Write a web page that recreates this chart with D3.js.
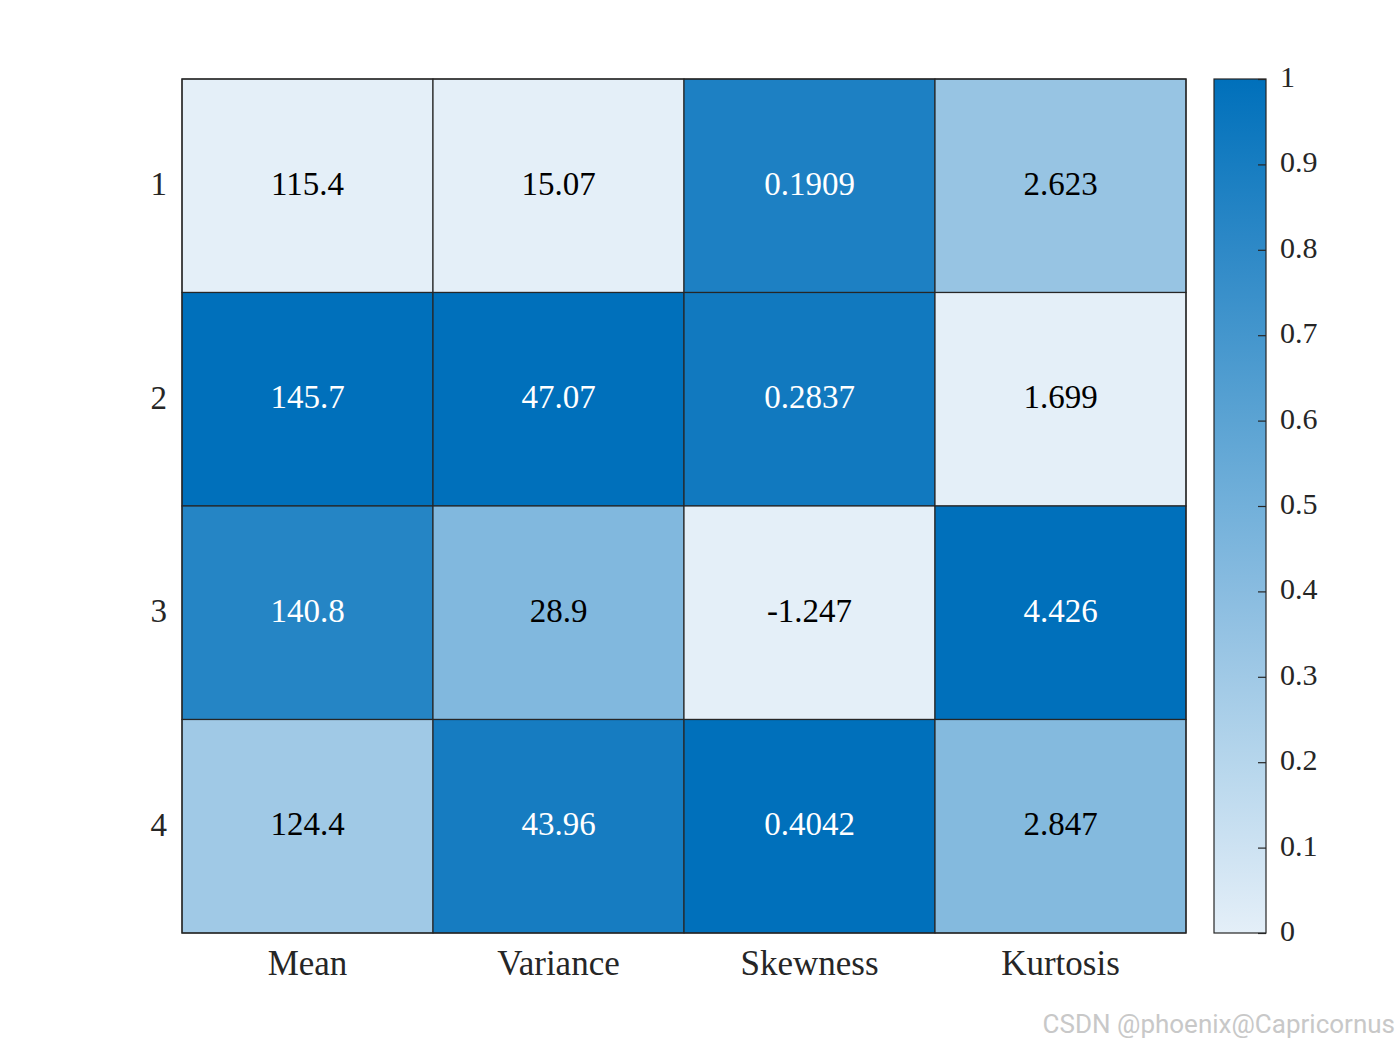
<!DOCTYPE html>
<html>
<head>
<meta charset="utf-8">
<script src="https://cdn.jsdelivr.net/npm/d3@7"></script>
<style>
  body { margin: 0; background: #fff; }
  svg { display: block; }
</style>
</head>
<body>
<svg id="chart" width="1400" height="1050"></svg>
<script>
// ---- data ----
const columns = ["Mean", "Variance", "Skewness", "Kurtosis"];
const rows = ["1", "2", "3", "4"];
const meanVals = [115.4, 145.7, 140.8, 124.4];
const varianceVals = [15.07, 47.07, 28.9, 43.96];
const skewnessVals = [0.1909, 0.2837, -1.247, 0.4042];
const kurtosisVals = [2.623, 1.699, 4.426, 2.847];
const colorbarTicks = [0, 0.1, 0.2, 0.3, 0.4, 0.5, 0.6, 0.7, 0.8, 0.9, 1];

const seriesByColumn = [meanVals, varianceVals, skewnessVals, kurtosisVals];

(function () {
// ---- layout ----
const svg = d3.select("#chart");
const pLeft = 182, pRight = 1186, pTop = 79, pBottom = 933;
const cbLeft = 1214, cbRight = 1266;
const font = "'Liberation Serif', 'Times New Roman', serif";

const x = d3.scaleBand().domain(columns).range([pLeft, pRight]).padding(0);
const y = d3.scaleBand().domain(rows).range([pTop, pBottom]).padding(0);
const color = d3.scaleLinear().domain([0, 1]).range(["#e4eff8", "#0070bb"]).interpolate(d3.interpolateRgb);

// cells with per-column min-max normalization
const cells = [];
columns.forEach((c, ci) => {
  const vals = seriesByColumn[ci];
  const [mn, mx] = d3.extent(vals);
  vals.forEach((v, ri) => {
    cells.push({ col: c, row: rows[ri], value: v, norm: (v - mn) / (mx - mn) });
  });
});

const g = svg.append("g");
g.selectAll("rect.cell").data(cells).join("rect")
  .attr("class", "cell")
  .attr("x", d => x(d.col))
  .attr("y", d => y(d.row))
  .attr("width", x.bandwidth())
  .attr("height", y.bandwidth())
  .attr("fill", d => color(d.norm))
  .attr("stroke", "#262626")
  .attr("stroke-width", 1.2);

g.selectAll("text.val").data(cells).join("text")
  .attr("class", "val")
  .attr("x", d => x(d.col) + x.bandwidth() / 2)
  .attr("y", d => y(d.row) + y.bandwidth() / 2 - 2)
  .attr("text-anchor", "middle")
  .attr("dominant-baseline", "central")
  .attr("font-family", font)
  .attr("font-size", 33)
  .attr("fill", d => d.norm > 0.5 ? "#ffffff" : "#000000")
  .text(d => d.value);

// outer border
svg.append("rect")
  .attr("x", pLeft).attr("y", pTop)
  .attr("width", pRight - pLeft).attr("height", pBottom - pTop)
  .attr("fill", "none").attr("stroke", "#262626").attr("stroke-width", 1.2);

// axis labels
const xAxis = d3.axisBottom(x).tickSize(0).tickPadding(14);
const xg = svg.append("g").attr("transform", `translate(0,${pBottom})`).call(xAxis);
xg.select(".domain").remove();
xg.selectAll("text").attr("font-family", font).attr("font-size", 35).attr("fill", "#262626").attr("dy", "0.8em");

const yAxis = d3.axisLeft(y).tickSize(0).tickPadding(15);
const yg = svg.append("g").attr("transform", `translate(${pLeft},0)`).call(yAxis);
yg.select(".domain").remove();
yg.selectAll("text").attr("font-family", font).attr("font-size", 33).attr("fill", "#262626").attr("dy", "0.28em");

// colorbar
const defs = svg.append("defs");
const grad = defs.append("linearGradient").attr("id", "cbgrad")
  .attr("x1", 0).attr("y1", 1).attr("x2", 0).attr("y2", 0);
d3.range(0, 1.0001, 0.1).forEach(t => {
  grad.append("stop").attr("offset", t).attr("stop-color", color(t));
});
const cbScale = d3.scaleLinear().domain([0, 1]).range([pBottom, pTop]);
svg.append("rect")
  .attr("x", cbLeft).attr("y", pTop)
  .attr("width", cbRight - cbLeft).attr("height", pBottom - pTop)
  .attr("fill", "url(#cbgrad)")
  .attr("stroke", "#262626").attr("stroke-width", 1.2);

const cbAxis = d3.axisRight(cbScale).tickValues(colorbarTicks).tickSize(-8).tickPadding(14)
  .tickFormat(d => d3.format("")(+d.toFixed(1)));
const cbg = svg.append("g").attr("transform", `translate(${cbRight},0)`).call(cbAxis);
cbg.select(".domain").remove();
cbg.selectAll("line").attr("stroke", "#262626").attr("stroke-width", 1.2);
cbg.selectAll("text").attr("font-family", font).attr("font-size", 30).attr("fill", "#262626").attr("dy", "0.25em");

// watermark
svg.append("text")
  .attr("x", 1395).attr("y", 1033)
  .attr("text-anchor", "end")
  .attr("font-family", "Roboto, 'Noto Sans', sans-serif")
  .attr("font-size", 26)
  .attr("fill", "#c8c8c8")
  .text("CSDN @phoenix@Capricornus");
})();
</script>
</body>
</html>
